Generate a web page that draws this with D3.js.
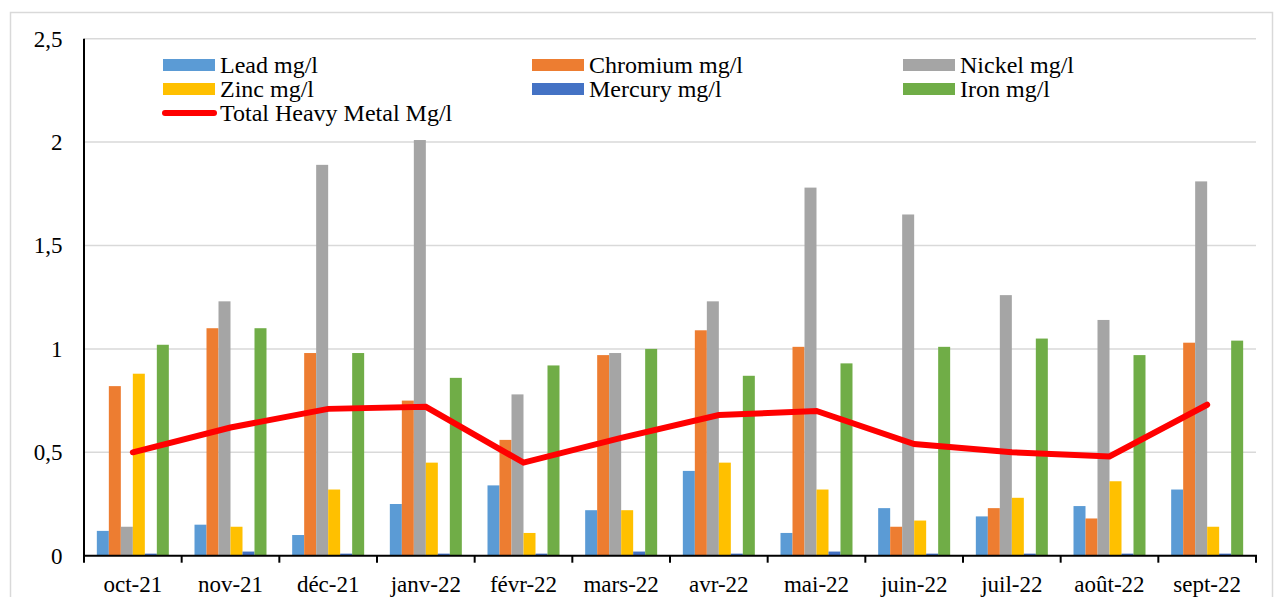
<!DOCTYPE html>
<html><head><meta charset="utf-8">
<script src="https://cdn.jsdelivr.net/npm/d3@7"></script>
<style>
html,body{margin:0;padding:0;background:#fff;}
svg text{font-family:"Liberation Serif","Times New Roman","DejaVu Serif",serif;}
</style></head>
<body><svg id="chart" width="1275" height="597" style="display:block"></svg>
<script>
const categories = ["oct-21","nov-21","déc-21","janv-22","févr-22","mars-22","avr-22","mai-22","juin-22","juil-22","août-22","sept-22"];
const seriesNames = ["Lead mg/l","Chromium mg/l","Nickel mg/l","Zinc mg/l","Mercury mg/l","Iron mg/l"];
const lead     = [0.12,0.15,0.10,0.25,0.34,0.22,0.41,0.11,0.23,0.19,0.24,0.32];
const chromium = [0.82,1.10,0.98,0.75,0.56,0.97,1.09,1.01,0.14,0.23,0.18,1.03];
const nickel   = [0.14,1.23,1.89,2.01,0.78,0.98,1.23,1.78,1.65,1.26,1.14,1.81];
const zinc     = [0.88,0.14,0.32,0.45,0.11,0.22,0.45,0.32,0.17,0.28,0.36,0.14];
const mercury  = [0.01,0.02,0.01,0.01,0.01,0.02,0.01,0.02,0.01,0.01,0.01,0.01];
const iron     = [1.02,1.10,0.98,0.86,0.92,1.00,0.87,0.93,1.01,1.05,0.97,1.04];
const totalName = "Total Heavy Metal Mg/l";
const total    = [0.50,0.62,0.71,0.72,0.45,0.57,0.68,0.70,0.54,0.50,0.48,0.73];
const yTicks = [0,0.5,1,1.5,2,2.5];
const yTickLabels = ["0","0,5","1","1,5","2","2,5"];
const colors = ["#5B9BD5","#ED7D31","#A5A5A5","#FFC000","#4472C4","#70AD47"];
const lineColor = "#FF0000";

const seriesValues = [lead,chromium,nickel,zinc,mercury,iron];
const FONT = "'Liberation Serif', 'Times New Roman', 'DejaVu Serif', serif";
const svg = d3.select("#chart").attr("font-family", FONT);
const pL = 84, pR = 1256, pT = 38.7, pB = 555.7;

// outer chart border
svg.append("rect").attr("x",10.5).attr("y",12.5).attr("width",1262).attr("height",600)
  .attr("fill","none").attr("stroke","#d9d9d9").attr("stroke-width",1.5);

const x0 = d3.scaleBand().domain(categories).range([pL,pR]).paddingInner(0).paddingOuter(0);
const x1 = d3.scaleBand().domain(seriesNames).range([0,x0.bandwidth()]).paddingInner(0).paddingOuter(1.07);
const y = d3.scaleLinear().domain([0,2.5]).range([pB,pT]);

// gridlines
svg.append("g").selectAll("line").data(yTicks.filter(d=>d>0)).join("line")
  .attr("x1",pL).attr("x2",pR).attr("y1",d=>y(d)).attr("y2",d=>y(d))
  .attr("stroke","#d9d9d9").attr("stroke-width",1.5);

// y labels
svg.append("g").selectAll("text").data(yTicks).join("text")
  .attr("font-family",FONT)
  .attr("x",62.5).attr("y",d=>y(d)).attr("dy","0.34em")
  .attr("text-anchor","end").attr("font-size",23).attr("fill","#000")
  .text((d,i)=>yTickLabels[i]);

// bars
const groups = svg.append("g").selectAll("g").data(categories).join("g")
  .attr("transform",c=>`translate(${x0(c)},0)`);
groups.selectAll("rect").data((c,ci)=>seriesNames.map((s,si)=>({s,si,v:seriesValues[si][ci]}))).join("rect")
  .attr("x",d=>x1(d.s)).attr("width",x1.bandwidth())
  .attr("y",d=>y(d.v)).attr("height",d=>y(0)-y(d.v))
  .attr("fill",d=>colors[d.si]);

// axes lines
svg.append("line").attr("x1",pL).attr("x2",pL).attr("y1",pT).attr("y2",pB+1)
  .attr("stroke","#000").attr("stroke-width",2);
const gx = svg.append("g").attr("transform",`translate(0,${pB})`);
gx.append("line").attr("x1",pL-1).attr("x2",pR+1).attr("y1",0).attr("y2",0)
  .attr("stroke","#000").attr("stroke-width",2);
const boundaries = categories.map(c=>x0(c)).concat([pR]);
gx.selectAll("line.tk").data(boundaries).join("line").attr("class","tk")
  .attr("x1",d=>d).attr("x2",d=>d).attr("y1",0).attr("y2",7)
  .attr("stroke","#000").attr("stroke-width",2);
gx.selectAll("text").data(categories).join("text")
  .attr("font-family",FONT)
  .attr("x",c=>x0(c)+x0.bandwidth()/2).attr("y",36)
  .attr("text-anchor","middle").attr("font-size",23).attr("fill","#000")
  .text(c=>c);

// total line
const line = d3.line().x((d,i)=>x0(categories[i])+x0.bandwidth()/2).y(d=>y(d));
svg.append("path").datum(total).attr("d",line)
  .attr("fill","none").attr("stroke",lineColor).attr("stroke-width",6)
  .attr("stroke-linecap","round").attr("stroke-linejoin","miter");

// legend
const legCols = [163, 532, 903];
const legRows = [65, 89, 113];
const leg = svg.append("g");
seriesNames.forEach((s,i)=>{
  const cx = legCols[i%3], cy = legRows[Math.floor(i/3)];
  leg.append("rect").attr("x",cx).attr("y",cy-6).attr("width",52).attr("height",12).attr("fill",colors[i]);
  leg.append("text").attr("font-family",FONT).attr("x",cx+57).attr("y",cy+8).attr("font-size",24).attr("fill","#000").text(s);
});
leg.append("line").attr("x1",165).attr("x2",214).attr("y1",legRows[2]).attr("y2",legRows[2])
  .attr("stroke",lineColor).attr("stroke-width",6).attr("stroke-linecap","round");
leg.append("text").attr("font-family",FONT).attr("x",220).attr("y",legRows[2]+8).attr("font-size",24).attr("fill","#000").text(totalName);
</script></body></html>
